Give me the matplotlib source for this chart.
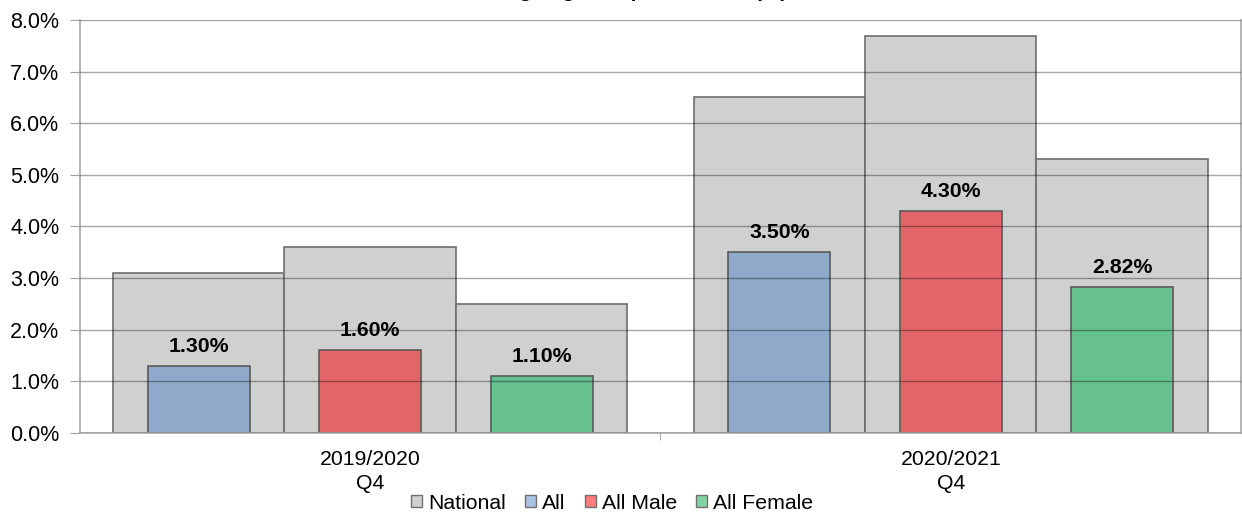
import numpy as np
import matplotlib.pyplot as plt
from matplotlib.patches import Patch

plt.rcParams['font.family'] = ['Liberation Sans', 'DejaVu Sans']

periods = ['2019/2020\nQ4', '2020/2021\nQ4']
groups = ['All', 'All Male', 'All Female']
national = [[3.1, 3.6, 2.5], [6.5, 7.7, 5.3]]
local = [[1.30, 1.60, 1.10], [3.50, 4.30, 2.82]]

bar_colors = ['#8ea9c9', '#e46668', '#66c08f']
legend_colors = ['#d0d0d0', '#a9c3e4', '#ff7c7c', '#80d3a2']

fig = plt.figure(figsize=(12.42, 5.16), dpi=100)
ax = fig.add_axes([0.0644, 0.1609, 0.9348, 0.8003])

x = np.arange(len(periods))
wide = 0.2954
narrow = 0.176
for i in range(len(groups)):
    off = (i - 1) * wide
    nat = [row[i] for row in national]
    val = [row[i] for row in local]
    ax.bar(x + off, nat, width=wide, color='#d0d0d0', edgecolor='#6e6e6e',
           linewidth=1.2, zorder=1)
    ax.bar(x + off, val, width=narrow, color=bar_colors[i], edgecolor='#5a5a5a',
           linewidth=1.2, zorder=2)
    for xi, v in zip(x + off, val):
        ax.text(xi, v + 0.2, f'{v:.2f}%', ha='center', va='bottom',
                fontsize=15.3, fontweight='bold', zorder=4)

ax.set_ylim(0, 8)
ax.set_xlim(-0.5, 1.5)
ax.set_yticks(np.arange(0, 9, 1))
ax.set_yticklabels([f'{v:.1f}%' for v in range(9)], fontsize=15.5)
ax.set_xticks(x)
ax.set_xticklabels(periods, fontsize=15.3, linespacing=1.35)
ax.tick_params(axis='x', length=0, pad=12)
ax.set_xticks([0.5], minor=True)
ax.tick_params(axis='x', which='minor', length=5, color='#a0a0a0')
ax.tick_params(axis='y', length=7, color='#a0a0a0', pad=8)

ax.yaxis.grid(True, color='black', alpha=0.35, linewidth=1)
ax.set_axisbelow(False)
for s in ['left', 'bottom', 'right', 'top']:
    ax.spines[s].set_color('#a8a8a8')
    ax.spines[s].set_linewidth(1.2)
ax.spines['top'].set_visible(False)

# title sits above the canvas, only its descenders show (as in the source image)
fig.text(0.52, 1.006, 'Ageing Group Claimants (%)', ha='center',
         va='baseline', fontsize=15, fontweight='bold')

handles = [Patch(facecolor=c, edgecolor='#707070') for c in legend_colors]
fig.legend(handles, ['National'] + groups, loc='center', bbox_to_anchor=(0.493, 0.025),
           ncol=4, frameon=False, fontsize=15.3, handlelength=0.52, handleheight=0.52,
           handletextpad=0.28, columnspacing=0.9, borderpad=0)

fig.savefig('out.png', dpi=100)
